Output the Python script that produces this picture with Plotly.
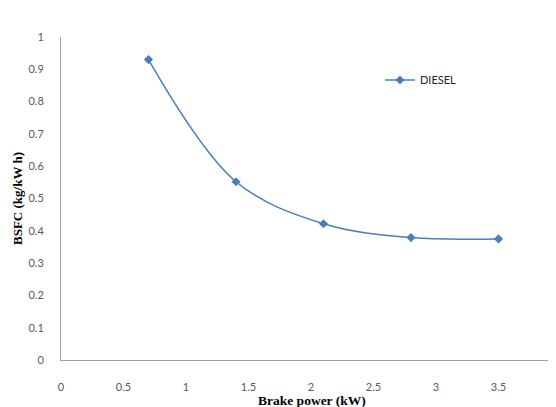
import plotly.graph_objects as go

brake_power = [0.7, 1.4, 2.1, 2.8, 3.5]
bsfc_diesel = [0.93, 0.552, 0.422, 0.379, 0.375]
series_name = "DIESEL"
x_ticks = [0, 0.5, 1, 1.5, 2, 2.5, 3, 3.5]
x_tick_labels = ["0", "0.5", "1", "1.5", "2", "2.5", "3", "3.5"]
y_ticks = [0, 0.1, 0.2, 0.3, 0.4, 0.5, 0.6, 0.7, 0.8, 0.9, 1]
y_tick_labels = ["0", "0.1", "0.2", "0.3", "0.4", "0.5", "0.6", "0.7", "0.8", "0.9", "1"]
x_title = "Brake power (kW)"
y_title = "BSFC (kg/kW h)"

blue = "#4a7ebb"
tick_font = dict(family="Lato, Liberation Sans, sans-serif", size=11, color="#595959")
y_title_font = dict(family="Liberation Serif, Times New Roman, serif", size=13, color="#000000")
x_title_font = dict(family="Liberation Serif, Times New Roman, serif", size=13.5, color="#000000")

fig = go.Figure()
fig.add_trace(go.Scatter(
    x=brake_power, y=bsfc_diesel, name=series_name,
    mode="lines+markers",
    line=dict(color=blue, width=1.5, shape="spline", smoothing=1.0),
    marker=dict(symbol="diamond", size=7, color=blue),
))

fig.update_layout(
    width=548, height=399,
    margin=dict(l=53, r=0, t=29, b=47),
    paper_bgcolor="white", plot_bgcolor="white",
    showlegend=True,
    legend=dict(x=(372 - 53) / 495, y=(323 - 43) / 323, xanchor="left", yanchor="middle",
                font=dict(family="Lato, Liberation Sans, sans-serif", size=11, color="#262626"),
                bgcolor="rgba(0,0,0,0)", itemwidth=30),
    xaxis=dict(
        range=[0, 3.96], tickvals=x_ticks, ticktext=x_tick_labels,
        showgrid=False, zeroline=False, showline=True, linecolor="#a0a0a0", linewidth=1,
        ticks="", tickfont=tick_font, ticklabelstandoff=17, automargin=False,
    ),
    yaxis=dict(
        range=[0, 1], tickvals=y_ticks, ticktext=y_tick_labels,
        showgrid=False, zeroline=False, showline=True, linecolor="#a0a0a0", linewidth=1,
        ticks="", tickfont=tick_font, ticklabelstandoff=14, automargin=False,
        title=dict(text="<b>" + y_title + "</b>", font=y_title_font, standoff=2),
    ),
    annotations=[dict(
        text="<b>" + x_title + "</b>", font=x_title_font, showarrow=False,
        xref="paper", yref="paper", x=(304 - 53) / 495, y=-(393 - 352) / 323,
        xanchor="center", yanchor="middle",
    )],
)

fig.write_html("out.html")
